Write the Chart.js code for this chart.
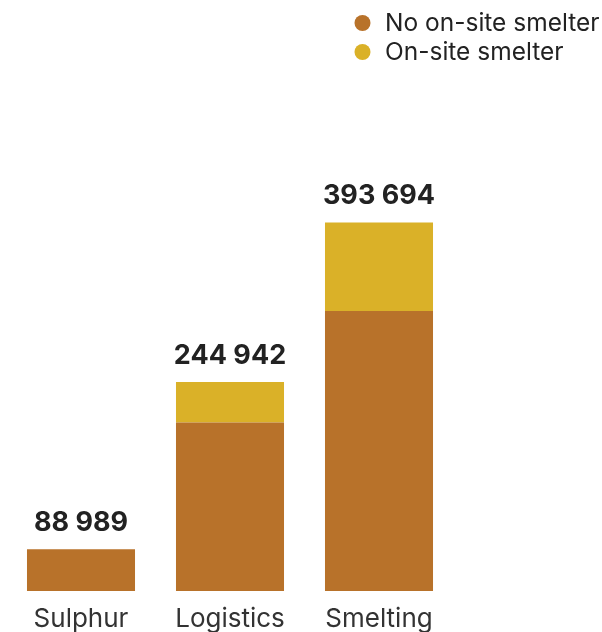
<!DOCTYPE html>
<html>
<head>
<meta charset="utf-8">
<script src="https://cdn.jsdelivr.net/npm/chart.js@4"></script>
<style>
  html, body { margin: 0; padding: 0; background: #fff; }
  #wrap { width: 602px; height: 632px; position: relative; }
</style>
</head>
<body>
<div id="wrap"><canvas id="smelterChart"></canvas></div>
<script>
// Sites by activity, split by smelter presence
const categories = ["Sulphur", "Logistics", "Smelting"];
const noSmelter = [88989, 207000, 311000];
const onSmelter = [0, 37942, 82694];
const seriesNames = ["No on-site smelter", "On-site smelter"];
const seriesColors = ["#B8722A", "#DAB128"];

const FONT = "Inter, 'Open Sans', sans-serif";

function formatTotal(n) {
    return String(n).replace(/\B(?=(\d{3})+(?!\d))/g, " ");
}

// Totals above each stack
const totalsPlugin = {
    id: "totals",
    afterDatasetsDraw(chart) {
        const { ctx } = chart;
        const yScale = chart.scales.y;
        const meta = chart.getDatasetMeta(0);
        ctx.save();
        ctx.font = "bold 27px " + FONT;
        ctx.fillStyle = "#222222";
        ctx.textAlign = "center";
        ctx.textBaseline = "alphabetic";
        categories.forEach((cat, i) => {
            const total = noSmelter[i] + onSmelter[i];
            const x = meta.data[i].x;
            const y = yScale.getPixelForValue(total);
            ctx.fillText(formatTotal(total), x, y - 18);
        });
        ctx.restore();
    },
};

// Legend drawn in the top-right corner, one entry per row
const cornerLegend = {
    id: "cornerLegend",
    afterDraw(chart) {
        const { ctx } = chart;
        ctx.save();
        ctx.font = "24.5px " + FONT;
        ctx.textAlign = "left";
        ctx.textBaseline = "alphabetic";
        seriesNames.forEach((name, i) => {
            const cy = 23 + i * 29;
            ctx.beginPath();
            ctx.arc(362.5, cy, 8, 0, Math.PI * 2);
            ctx.fillStyle = seriesColors[i];
            ctx.fill();
            ctx.fillStyle = "#222222";
            ctx.fillText(name, 385, 30.5 + i * 29);
        });
        ctx.restore();
    },
};

new Chart(document.getElementById("smelterChart"), {
    type: "bar",
    data: {
        labels: categories,
        datasets: [
            {
                label: seriesNames[0],
                data: noSmelter,
                backgroundColor: seriesColors[0],
                categoryPercentage: 0.725,
                barPercentage: 1,
            },
            {
                label: seriesNames[1],
                data: onSmelter,
                backgroundColor: seriesColors[1],
                categoryPercentage: 0.725,
                barPercentage: 1,
            },
        ],
    },
    options: {
        responsive: true,
        maintainAspectRatio: false,
        animation: false,
        layout: { padding: { left: 6.5, right: 148.5, top: 162, bottom: 0 } },
        plugins: {
            legend: { display: false },
            tooltip: { enabled: false },
        },
        scales: {
            x: {
                stacked: true,
                grid: { display: false, drawTicks: false },
                border: { display: false },
                ticks: {
                    padding: 13,
                    color: "#333333",
                    font: { family: FONT, size: 26 },
                },
                afterFit(scale) {
                    scale.height = 41;
                },
            },
            y: {
                stacked: true,
                display: false,
                min: 50000,
                max: 450000,
            },
        },
    },
    plugins: [totalsPlugin, cornerLegend],
});
</script>
</body>
</html>
